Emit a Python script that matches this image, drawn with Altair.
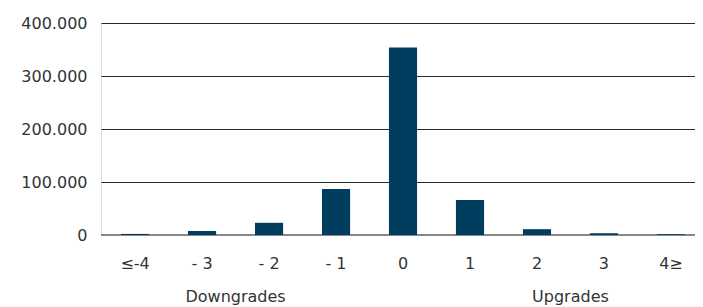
import altair as alt
import pandas as pd

categories = ["≤-4", "- 3", "- 2", "- 1", "0", "1", "2", "3", "4≥"]
values = [2000, 7500, 23000, 87000, 354000, 66000, 11000, 3500, 1500]
y_ticks = [0, 100000, 200000, 300000, 400000]
groups = ["Downgrades", "Upgrades"]
group_anchor = ["- 3", "2"]

df = pd.DataFrame({"cat": categories, "val": values})
gdf = pd.DataFrame({"grp": groups, "cat": group_anchor})
zdf = pd.DataFrame({"z": [0]})

FONT = "DejaVu Sans"
W, H = 594, 212

xscale = alt.Scale(domain=categories, paddingInner=0.58, paddingOuter=0.224, align=0.667)
yscale = alt.Scale(domain=[0, 400000])

bars = alt.Chart(df).mark_bar(color="#013D5F").encode(
    x=alt.X("cat:N", scale=xscale, sort=categories,
            axis=alt.Axis(title=None, ticks=False, domain=False, labelAngle=0,
                          labelFontSize=16, labelColor="#333", labelFont=FONT,
                          labelPadding=20, grid=False)),
    y=alt.Y("val:Q", scale=yscale,
            axis=alt.Axis(title=None, values=y_ticks, ticks=False, domain=False,
                          labelFontSize=16, labelColor="#333", labelFont=FONT,
                          labelPadding=14, gridColor="#2a2a2a", gridWidth=1.2,
                          labelExpr="replace(format(datum.value, ','), ',', '.')")),
)

zero = alt.Chart(zdf).mark_rule(color="#888", strokeWidth=2).encode(
    y=alt.Y("z:Q", scale=yscale),
)

glabels = alt.Chart(gdf).mark_text(
    fontSize=16, font=FONT, color="#333", dx=33.5, baseline="middle"
).encode(
    x=alt.X("cat:N", scale=xscale, sort=categories),
    y=alt.value(H + 62),
    text="grp:N",
)

chart = alt.layer(zero, bars, glabels).properties(
    width=W, height=H,
    autosize=alt.AutoSizeParams(type="none"),
    padding={"left": 93, "top": 15, "right": 0, "bottom": 74},
).configure_view(stroke=None).configure(background="white")

chart.save("out.html", embed_options={"renderer": "svg", "actions": False})
